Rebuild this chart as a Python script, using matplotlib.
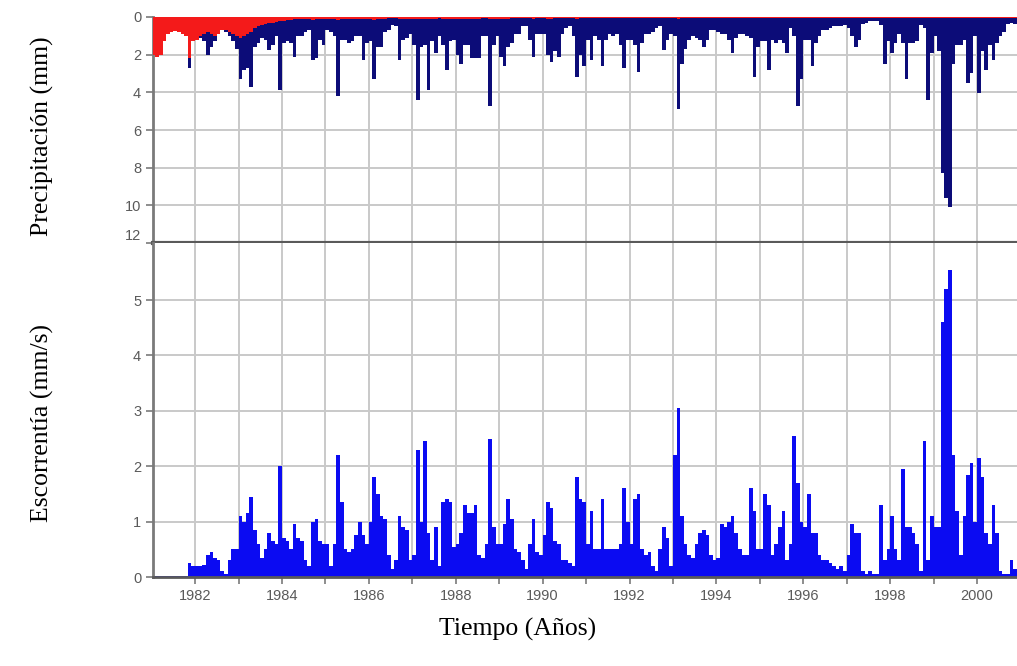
import matplotlib
matplotlib.use("Agg")
import matplotlib.pyplot as plt
from matplotlib.ticker import MultipleLocator, FuncFormatter

# ------------------------------------------------------------
# Monthly series, Jan 1981 .. Dec 2000 (one row per year)
# ------------------------------------------------------------
start_year = 1981

precip_mm = [
    1.2, 1.0, 0.9, 1.0, 0.6, 0.5, 0.4, 0.5, 0.6, 0.8, 2.7, 1.0,     # 1981
    1.2, 1.1, 1.3, 2.0, 1.6, 1.3, 0.9, 0.7, 0.8, 1.0, 1.3, 1.7,     # 1982
    3.3, 2.8, 2.7, 3.7, 1.6, 1.4, 1.1, 1.2, 1.75, 1.5, 1.0, 3.9,    # 1983
    1.4, 1.3, 1.4, 2.1, 1.0, 1.0, 0.8, 0.7, 2.3, 2.2, 1.2, 1.5,     # 1984
    0.7, 0.8, 1.0, 4.2, 1.2, 1.2, 1.4, 1.3, 1.0, 1.0, 2.3, 1.4,     # 1985
    1.3, 3.3, 1.6, 1.6, 0.8, 0.7, 0.4, 0.5, 2.3, 1.2, 1.1, 0.9,     # 1986
    1.5, 4.4, 1.6, 1.5, 3.9, 1.3, 1.9, 1.0, 1.5, 2.8, 1.3, 1.2,     # 1987
    2.0, 2.5, 1.5, 1.5, 2.2, 2.2, 2.2, 1.0, 1.0, 4.75, 1.5, 1.0,    # 1988
    2.1, 2.6, 1.6, 1.4, 0.9, 0.9, 0.5, 0.5, 1.2, 2.1, 0.9, 0.9,     # 1989
    0.9, 2.0, 2.4, 1.8, 2.1, 0.9, 0.6, 0.5, 1.0, 3.2, 2.0, 2.6,     # 1990
    1.2, 2.3, 1.0, 1.2, 2.6, 1.2, 0.9, 1.0, 0.9, 1.5, 2.7, 1.2,     # 1991
    1.2, 1.5, 2.9, 1.4, 0.9, 0.9, 0.8, 0.6, 0.5, 1.75, 1.2, 0.9,    # 1992
    1.0, 4.9, 2.5, 1.7, 1.2, 1.0, 1.1, 1.2, 1.6, 1.2, 0.7, 0.7,     # 1993
    0.8, 0.9, 0.9, 1.2, 1.9, 1.1, 0.9, 0.9, 1.0, 1.1, 3.2, 1.6,     # 1994
    1.3, 1.3, 2.8, 1.2, 1.4, 1.2, 1.4, 1.9, 0.6, 1.0, 4.75, 3.3,    # 1995
    1.2, 1.2, 2.6, 1.4, 1.0, 0.7, 0.7, 0.6, 0.5, 0.5, 0.5, 0.4,     # 1996
    0.6, 1.0, 1.6, 1.2, 0.35, 0.3, 0.2, 0.2, 0.2, 0.4, 2.5, 1.3,    # 1997
    1.9, 1.4, 0.9, 1.4, 3.3, 1.4, 1.4, 1.3, 0.4, 0.6, 4.4, 1.9,     # 1998
    1.0, 1.8, 8.3, 9.6, 10.1, 2.5, 1.5, 1.5, 1.2, 3.5, 3.0, 1.0,    # 1999
    4.05, 1.8, 2.8, 1.5, 2.3, 1.4, 1.0, 0.8, 0.35, 0.3, 0.35, 0.3,  # 2000
]

# red series drawn over the precipitation bars
precip_red = [
    2.0, 2.1, 2.0, 1.3, 0.9, 0.8, 0.75, 0.8, 0.9, 1.0, 2.2, 1.3,    # 1981
    1.2, 1.0, 0.9, 0.8, 0.9, 1.0, 0.9, 0.7, 0.7, 0.8, 0.9, 1.0,     # 1982
    1.1, 1.0, 0.9, 0.8, 0.6, 0.5, 0.4, 0.35, 0.3, 0.3, 0.25, 0.2,   # 1983
    0.2, 0.15, 0.15, 0.1, 0.1, 0.1, 0.1, 0.1, 0.15, 0.1, 0.1, 0.1,  # 1984
    0.1, 0.1, 0.1, 0.15, 0.1, 0.1, 0.1, 0.1, 0.1, 0.1, 0.1, 0.1,    # 1985
    0.1, 0.15, 0.1, 0.1, 0.1, 0.05, 0.05, 0.05, 0.1, 0.1, 0.1, 0.1, # 1986
    0.1, 0.1, 0.1, 0.1, 0.1, 0.1, 0.1, 0.05, 0.1, 0.1, 0.1, 0.1,    # 1987
    0.1, 0.1, 0.1, 0.1, 0.1, 0.1, 0.1, 0.05, 0.05, 0.1, 0.1, 0.1,   # 1988
    0.1, 0.1, 0.1, 0.05, 0.05, 0.05, 0.05, 0.05, 0.05, 0.1, 0.05, 0.05,  # 1989
    0.05, 0.1, 0.1, 0.05, 0.05, 0.05, 0.05, 0.05, 0.05, 0.1, 0.05, 0.05, # 1990
    0.05, 0.05, 0.05, 0.05, 0.05, 0.05, 0.05, 0.05, 0.05, 0.05, 0.05, 0.05,  # 1991
    0.05, 0.05, 0.05, 0.05, 0.05, 0.05, 0.05, 0.05, 0.05, 0.05, 0.05, 0.05,  # 1992
    0.05, 0.1, 0.05, 0.05, 0.05, 0.05, 0.05, 0.05, 0.05, 0.05, 0.05, 0.05,   # 1993
    0.05, 0.05, 0.05, 0.05, 0.05, 0.05, 0.05, 0.05, 0.05, 0.05, 0.05, 0.05,  # 1994
    0.05, 0.05, 0.05, 0.05, 0.05, 0.05, 0.05, 0.05, 0.05, 0.05, 0.05, 0.05,  # 1995
    0.05, 0.05, 0.05, 0.05, 0.05, 0.05, 0.05, 0.05, 0.05, 0.05, 0.05, 0.05,  # 1996
    0.05, 0.05, 0.05, 0.05, 0.05, 0.05, 0.05, 0.05, 0.05, 0.05, 0.05, 0.05,  # 1997
    0.05, 0.05, 0.05, 0.05, 0.05, 0.05, 0.05, 0.05, 0.05, 0.05, 0.05, 0.05,  # 1998
    0.05, 0.05, 0.05, 0.05, 0.05, 0.05, 0.05, 0.05, 0.05, 0.05, 0.05, 0.05,  # 1999
    0.05, 0.05, 0.05, 0.05, 0.05, 0.05, 0.05, 0.05, 0.05, 0.05, 0.05, 0.05,  # 2000
]

runoff_mm_s = [
    0.02, 0.02, 0.02, 0.02, 0.02, 0.02, 0.02, 0.02, 0.02, 0.02, 0.25, 0.2,  # 1981
    0.2, 0.2, 0.22, 0.4, 0.45, 0.35, 0.3, 0.1, 0.05, 0.3, 0.5, 0.5,     # 1982
    1.1, 1.0, 1.15, 1.45, 0.85, 0.6, 0.35, 0.5, 0.8, 0.65, 0.6, 2.0,    # 1983
    0.7, 0.65, 0.5, 0.95, 0.7, 0.65, 0.3, 0.2, 1.0, 1.05, 0.65, 0.6,    # 1984
    0.6, 0.2, 0.6, 2.2, 1.35, 0.5, 0.45, 0.5, 0.75, 1.0, 0.75, 0.6,     # 1985
    1.0, 1.8, 1.5, 1.1, 1.05, 0.4, 0.15, 0.3, 1.1, 0.9, 0.85, 0.3,      # 1986
    0.4, 2.3, 1.0, 2.45, 0.8, 0.3, 0.9, 0.2, 1.35, 1.4, 1.35, 0.55,     # 1987
    0.6, 0.8, 1.3, 1.15, 1.15, 1.3, 0.4, 0.35, 0.6, 2.5, 0.9, 0.6,      # 1988
    0.6, 0.95, 1.4, 1.05, 0.5, 0.45, 0.3, 0.15, 0.6, 1.05, 0.45, 0.4,   # 1989
    0.75, 1.35, 1.25, 0.65, 0.6, 0.3, 0.3, 0.25, 0.2, 1.8, 1.4, 1.35,   # 1990
    0.6, 1.2, 0.5, 0.5, 1.4, 0.5, 0.5, 0.5, 0.5, 0.6, 1.6, 1.0,         # 1991
    0.6, 1.4, 1.5, 0.5, 0.4, 0.45, 0.2, 0.1, 0.5, 0.9, 0.7, 0.2,        # 1992
    2.2, 3.05, 1.1, 0.6, 0.4, 0.35, 0.6, 0.8, 0.85, 0.75, 0.4, 0.3,     # 1993
    0.35, 0.95, 0.9, 1.0, 1.1, 0.8, 0.5, 0.4, 0.4, 1.6, 1.2, 0.5,       # 1994
    0.5, 1.5, 1.3, 0.4, 0.6, 0.9, 1.2, 0.3, 0.6, 2.55, 1.7, 1.0,        # 1995
    0.9, 1.5, 0.8, 0.8, 0.4, 0.3, 0.3, 0.25, 0.2, 0.15, 0.2, 0.1,       # 1996
    0.4, 0.95, 0.8, 0.8, 0.1, 0.05, 0.1, 0.05, 0.05, 1.3, 0.3, 0.5,     # 1997
    1.1, 0.5, 0.3, 1.95, 0.9, 0.9, 0.8, 0.6, 0.1, 2.45, 0.3, 1.1,       # 1998
    0.9, 0.9, 4.6, 5.2, 5.55, 2.2, 1.2, 0.4, 1.1, 1.85, 2.05, 1.0,      # 1999
    2.15, 1.8, 0.8, 0.6, 1.3, 0.8, 0.1, 0.05, 0.05, 0.3, 0.15, 0.15,    # 2000
]

months = [start_year + i / 12 for i in range(len(precip_mm))]

NAVY = "#0c0c78"
RED = "#f41a1a"
BLUE = "#0b0bf2"
GRID = "#c9c9c9"
TICK = "#5a5a5a"

fig = plt.figure(figsize=(10.17, 6.66), dpi=100)
ax_p = fig.add_axes([0.1504, 0.6351, 0.8496, 0.3394])
ax_q = fig.add_axes([0.1504, 0.1336, 0.8496, 0.5015], sharex=ax_p)

# --- precipitation (hanging bars, inverted axis) ---
ax_p.bar(months, precip_mm, width=1 / 12, align="edge",
         color=NAVY, linewidth=0, zorder=2)
ax_p.bar(months, precip_red, width=1 / 12, align="edge",
         color=RED, linewidth=0, zorder=3)
ax_p.set_ylim(12, 0)
ax_p.set_yticks([0, 2, 4, 6, 8, 10, 12])

# --- runoff ---
ax_q.bar(months, runoff_mm_s, width=1 / 12, align="edge",
         color=BLUE, linewidth=0, zorder=2)
ax_q.set_ylim(0, 6.03)
ax_q.set_yticks([0, 1, 2, 3, 4, 5])

ax_q.set_xlim(1981.03, 2000.92)
ax_q.xaxis.set_major_locator(MultipleLocator(1))
ax_q.xaxis.set_major_formatter(
    FuncFormatter(lambda v, pos: f"{int(round(v))}" if int(round(v)) % 2 == 0 else "")
)

for ax in (ax_p, ax_q):
    ax.set_axisbelow(True)
    ax.grid(True, color=GRID, linewidth=1.4)
    for side in ("top", "right"):
        ax.spines[side].set_visible(False)
    ax.spines["left"].set_color("#7a7a7a")
    ax.spines["left"].set_linewidth(2)
    ax.tick_params(axis="both", colors="#7a7a7a", labelcolor=TICK,
                   labelsize=10.5, length=5, width=1.2, direction="out")
    for lab in ax.get_yticklabels() + ax.get_xticklabels():
        lab.set_fontfamily("Liberation Sans")

# lift the "12" label a little, as in the original
ax_p.get_yticklabels()[-1].set_va("bottom")

ax_p.spines["bottom"].set_color("#5a5a5a")
ax_p.spines["bottom"].set_linewidth(3)
ax_p.tick_params(axis="x", bottom=False, labelbottom=False)

ax_q.spines["bottom"].set_color("#5a5a5a")
ax_q.spines["bottom"].set_linewidth(2)

serif = "Liberation Serif"
fig.text(0.042, 0.795, "Precipitación (mm)", rotation=90, ha="center", va="center",
         fontsize=18.5, family=serif)
fig.text(0.042, 0.365, "Escorrentía (mm/s)", rotation=90, ha="center", va="center",
         fontsize=18.5, family=serif)
fig.text(0.509, 0.055, "Tiempo (Años)", ha="center", va="center",
         fontsize=18.5, family=serif)

fig.savefig("out.png", dpi=100)
